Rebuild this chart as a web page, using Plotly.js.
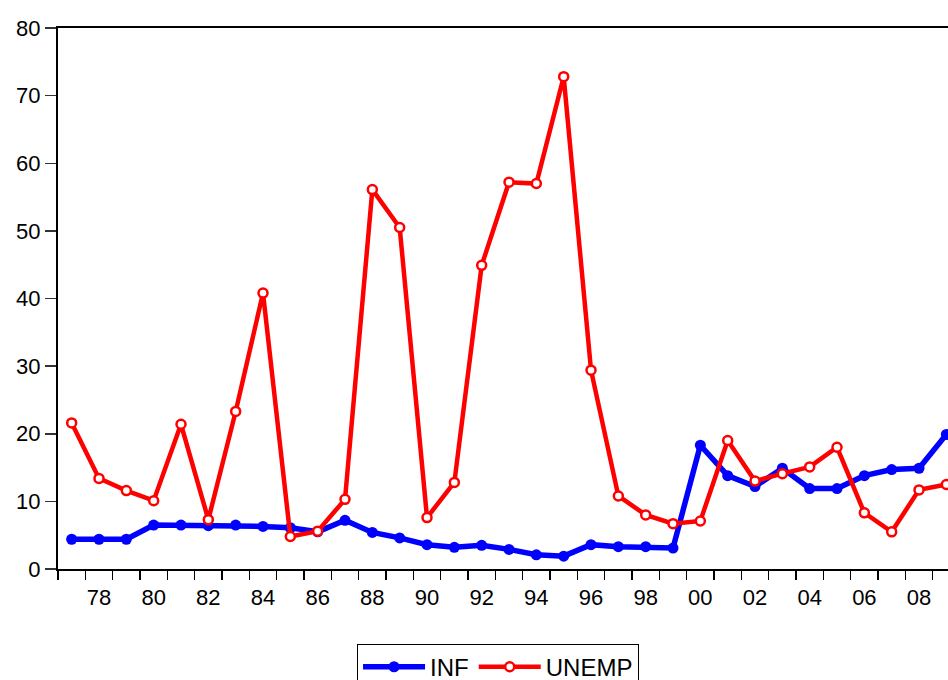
<!DOCTYPE html>
<html>
<head>
<meta charset="utf-8">
<script src="https://cdn.plot.ly/plotly-3.0.1.min.js"></script>
<style>html,body{margin:0;padding:0;background:#fff;}#chart{width:948px;height:680px;}</style>
</head>
<body>
<div id="chart"></div>
<script>
var years = [1977,1978,1979,1980,1981,1982,1983,1984,1985,1986,1987,1988,1989,1990,1991,1992,1993,1994,1995,1996,1997,1998,1999,2000,2001,2002,2003,2004,2005,2006,2007,2008,2009];
var inf = [4.4,4.4,4.4,6.5,6.5,6.4,6.5,6.3,6.1,5.5,7.2,5.4,4.6,3.6,3.2,3.5,2.9,2.1,1.9,3.6,3.3,3.3,3.1,18.3,13.8,12.2,14.9,11.9,11.9,13.8,14.7,14.9,19.9];
var unemp = [21.6,13.4,11.6,10.1,21.4,7.3,23.3,40.8,4.8,5.6,10.3,56.1,50.5,7.6,12.8,44.9,57.2,57.0,72.8,29.4,10.8,8.0,6.7,7.1,19.0,13.0,14.1,15.1,18.0,8.3,5.5,11.7,12.5];
var labelYears = [1978,1980,1982,1984,1986,1988,1990,1992,1994,1996,1998,2000,2002,2004,2006,2008];
var labelText = ['78','80','82','84','86','88','90','92','94','96','98','00','02','04','06','08'];
var tickBounds = [];
for (var i = 0; i <= years.length; i++) { tickBounds.push(years[0] - 0.5 + i); }
var yTicks = [0,10,20,30,40,50,60,70,80];

var xr = [1976.5, 2009.06];
var font = {family: 'Liberation Sans, Arial, sans-serif', size: 22, color: '#000'};

var traces = [
  {x: years, y: inf, name: 'INF', type: 'scatter', mode: 'lines+markers',
   line: {color: '#0000FF', width: 5.5}, marker: {color: '#0000FF', size: 11, symbol: 'circle'}},
  {x: years, y: unemp, name: 'UNEMP', type: 'scatter', mode: 'lines+markers',
   line: {color: '#FF0000', width: 4.5}, marker: {color: '#FFFFFF', size: 9, symbol: 'circle', line: {color: '#FF0000', width: 2.5}}},
  {x: [xr[0]], y: [-100], xaxis: 'x2', showlegend: false, hoverinfo: 'skip', mode: 'markers', marker: {opacity: 0}}
];

var layout = {
  width: 948, height: 680,
  margin: {l: 58, r: 0, t: 28, b: 110.5, autoexpand: false},
  paper_bgcolor: '#fff', plot_bgcolor: '#fff',
  font: font,
  showlegend: true,
  xaxis: {range: xr, tickmode: 'array', tickvals: labelYears, ticktext: labelText,
          ticks: '', showgrid: false, zeroline: false, showline: true, mirror: true,
          linecolor: '#000', linewidth: 2, tickfont: font, automargin: false, ticklabelstandoff: 8},
  xaxis2: {range: xr, overlaying: 'x', anchor: 'y', side: 'bottom', tickmode: 'array',
           tickvals: tickBounds, ticks: 'outside', ticklen: 10, tickwidth: 1.5, tickcolor: '#000',
           showticklabels: false, showgrid: false, zeroline: false, showline: false, automargin: false},
  yaxis: {range: [0, 80], tickmode: 'array', tickvals: yTicks, ticks: 'outside', ticklen: 11,
          tickwidth: 1.5, tickcolor: '#333', showgrid: false, zeroline: false, showline: true,
          linecolor: '#000', linewidth: 2, tickfont: font, automargin: false, ticklabelstandoff: 0},
  legend: {orientation: 'h', x: 0.336, xanchor: 'left', y: -0.138, yanchor: 'top',
           bordercolor: '#000', borderwidth: 1, bgcolor: '#fff', itemwidth: 62,
           font: {family: 'Liberation Sans, Arial, sans-serif', size: 24, color: '#000'}}
};

Plotly.newPlot('chart', traces, layout, {displayModeBar: false, staticPlot: true});
</script>
</body>
</html>
